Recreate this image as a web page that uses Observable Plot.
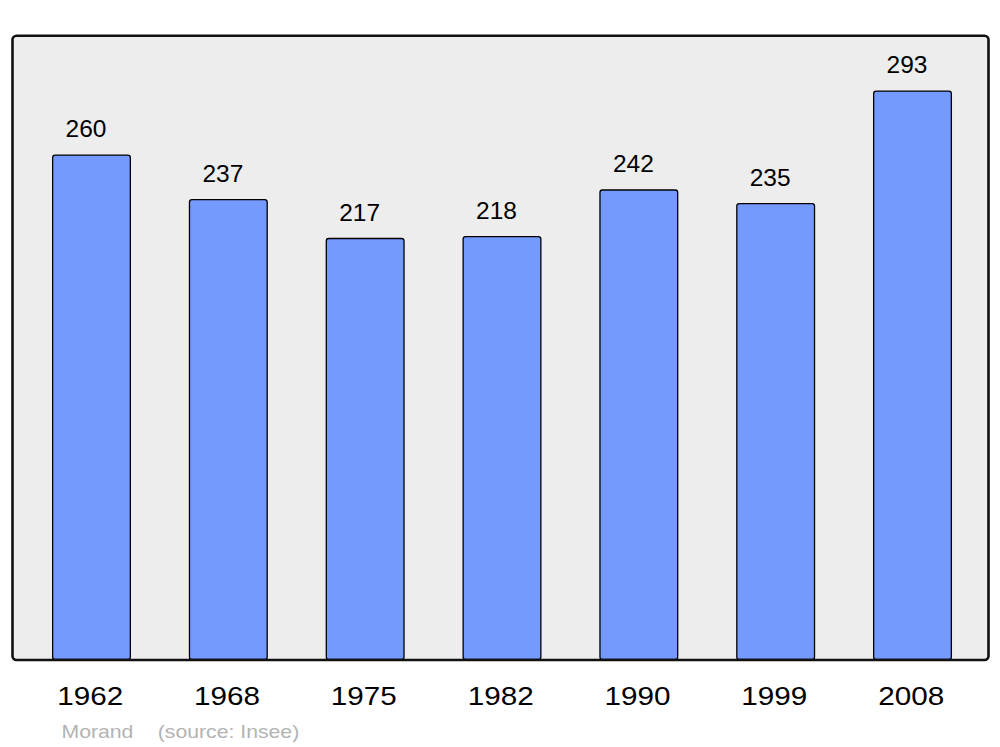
<!DOCTYPE html>
<html>
<head>
<meta charset="utf-8">
<script src="https://cdn.jsdelivr.net/npm/d3@7"></script>
<script src="https://cdn.jsdelivr.net/npm/@observablehq/plot@0.6"></script>
<style>
  html, body { margin: 0; padding: 0; background: #ffffff; }
  #chart svg { display: block; }
</style>
</head>
<body>
<div id="chart"></div>
<script>
const years = ["1962", "1968", "1975", "1982", "1990", "1999", "2008"];
const population = [260, 237, 217, 218, 242, 235, 293];
const captionName = "Morand";
const captionSource = "(source: Insee)";

const data = years.map((y, i) => ({year: y, value: population[i]}));

const font = "'Liberation Sans', Arial, sans-serif";

const chart = Plot.plot({
  width: 1000,
  height: 747,
  marginLeft: 12,
  marginRight: 12,
  marginTop: 35.2,
  marginBottom: 87.5,
  style: {fontFamily: font, background: "#ffffff", overflow: "visible"},
  x: {domain: years, round: false, paddingInner: 0.432, paddingOuter: 0.216, insetLeft: 11.08, insetRight: 7.08, axis: null},
  y: {domain: [0, 321.8], axis: null},
  marks: [
    Plot.frame({fill: "#ededed", stroke: "none", rx: 4}),
    Plot.barY(data, {x: "year", y: "value", fill: "#7499ff", stroke: "#000000", strokeWidth: 1.3, rx: 2.5}),
    Plot.frame({fill: "none", stroke: "#111111", strokeWidth: 2.6, rx: 4}),
    Plot.text(data, {x: "year", y: "value", text: d => String(d.value), dy: -18.5, dx: -6,
      lineAnchor: "bottom", fontSize: 24.5, fill: "#000000", className: "vals"}),
    Plot.text(data, {x: "year", text: "year", frameAnchor: "bottom", dy: 44.5, dx: -1.8,
      lineAnchor: "bottom", fontSize: 26.5, fill: "#000000", className: "years"}),
    Plot.text([captionName], {frameAnchor: "bottom-left", text: d => d, dx: 49, dy: 77.8,
      textAnchor: "start", lineAnchor: "bottom", fontSize: 18.3, fill: "#b3b3b3", className: "cap"}),
    Plot.text([captionSource], {frameAnchor: "bottom-left", text: d => d, dx: 145.3, dy: 77.8,
      textAnchor: "start", lineAnchor: "bottom", fontSize: 18.3, fill: "#b3b3b3", className: "cap"})
  ]
});

// horizontal stretch of glyphs around each text's own anchor
function stretch(sel, s) {
  d3.select(chart).selectAll(sel).each(function () {
    const x = +(this.getAttribute("x") || 0);
    const t = this.getAttribute("transform") || "";
    this.setAttribute("transform", `${t} translate(${x},0) scale(${s},1) translate(${-x},0)`);
  });
}
stretch(".years text", 1.12);
stretch(".cap text", 1.16);

document.getElementById("chart").appendChild(chart);
</script>
</body>
</html>
